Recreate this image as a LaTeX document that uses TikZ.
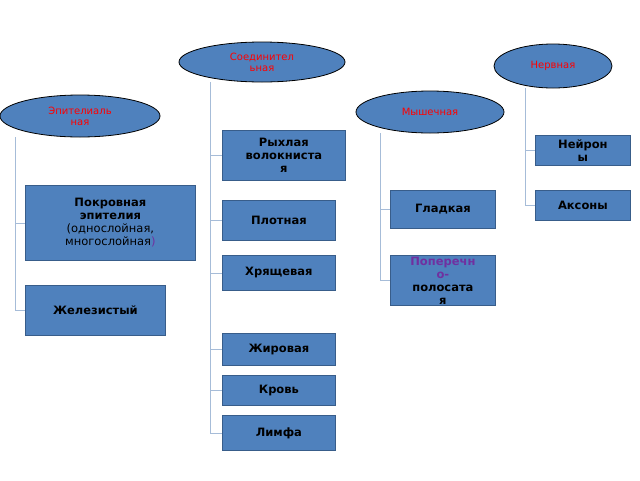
\documentclass[tikz,border=0pt]{standalone}
\usepackage{fontspec}
\setmainfont{DejaVu Sans}
\usetikzlibrary{shapes.geometric}
\definecolor{boxfill}{HTML}{4F81BD}
\definecolor{boxline}{HTML}{385D8A}
\definecolor{connline}{HTML}{A6BCD8}
\definecolor{purpletext}{HTML}{7030A0}

\tikzset{
  group/.style={ellipse,draw=black,thick,fill=boxfill,inner sep=0pt,text=red,
    font=\fontsize{10}{11}\selectfont,align=center},
  item/.style={rectangle,draw=boxline,thick,fill=boxfill,inner sep=1pt,
    font=\bfseries\fontsize{11.5}{13}\selectfont,align=center,anchor=north west},
  conn/.style={connline,thick}
}

\begin{document}
\begin{tikzpicture}[x=1pt,y=-1pt]
\useasboundingbox (0,0) rectangle (640,480);

% groups
\node[group,minimum width=166,minimum height=40] (soed) at (262,62) {Соединител\\ьная};
\node[group,minimum width=118,minimum height=44] (nerv) at (553,66) {Нервная};
\node[group,minimum width=148,minimum height=42] (mysh) at (430,112) {Мышечная};
\node[group,minimum width=160,minimum height=42] (epit) at (80,116) {Эпителиаль\\ная};

% connective
\node[item,minimum width=123,minimum height=50] (ryhl) at (222,130) {Рыхлая\\волокниста\\я};
\node[item,minimum width=113,minimum height=40] (plot) at (222,200) {Плотная};
\node[item,minimum width=113,minimum height=35] (hrya) at (222,255) {Хрящевая};
\node[item,minimum width=113,minimum height=32] (zhir) at (222,333) {Жировая};
\node[item,minimum width=113,minimum height=30] (krov) at (222,375) {Кровь};
\node[item,minimum width=113,minimum height=35] (limf) at (222,415) {Лимфа};

% epithelial
\node[item,minimum width=170,minimum height=75] (pokr) at (25,185) {Покровная\\эпителия\\{\mdseries(однослойная,}\\{\mdseries многослойная{\color{purpletext})}}};
\node[item,minimum width=140,minimum height=50] (zhel) at (25,285) {Железистый};

% muscle
\node[item,minimum width=105,minimum height=38] (glad) at (390,190) {Гладкая};
\node[item,minimum width=105,minimum height=50] (pope) at (390,255) {{\color{purpletext}Поперечн}\\{\color{purpletext}о-}\\полосата\\я};

% nervous
\node[item,minimum width=95,minimum height=30] (neir) at (535,135) {Нейрон\\ы};
\node[item,minimum width=95,minimum height=30] (akso) at (535,190) {Аксоны};

% trunks
\coordinate (soedT) at (210,82);
\coordinate (epitT) at (15,137);
\coordinate (myshT) at (380,133);
\coordinate (nervT) at (525,88);

\foreach \b in {ryhl,plot,hrya,zhir,krov,limf} \draw[conn] (soedT) |- (\b.west);
\foreach \b in {pokr,zhel} \draw[conn] (epitT) |- (\b.west);
\foreach \b in {glad,pope} \draw[conn] (myshT) |- (\b.west);
\foreach \b in {neir,akso} \draw[conn] (nervT) |- (\b.west);

\end{tikzpicture}
\end{document}
